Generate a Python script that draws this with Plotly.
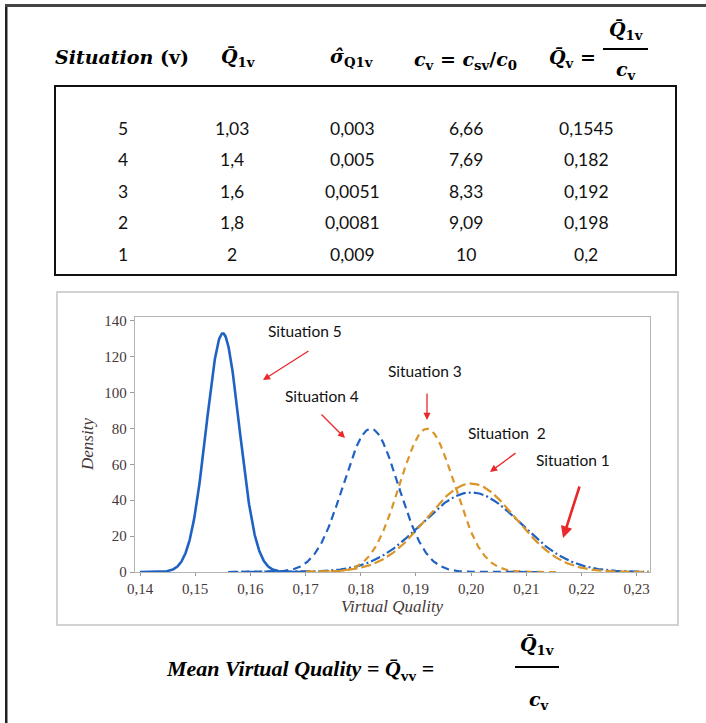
import numpy as np
import plotly.graph_objects as go

# ---------------- data ----------------
situations = [5, 4, 3, 2, 1]
q1v_mean = [1.03, 1.4, 1.6, 1.8, 2]
sd_q1v = [0.003, 0.005, 0.0051, 0.0081, 0.009]
c_v = [6.66, 7.69, 8.33, 9.09, 10]
qv_mean = [0.1545, 0.182, 0.192, 0.198, 0.2]

# curve parameters as drawn in the density chart (peaks)
curve_names = ["Situation 5", "Situation 4", "Situation 3", "Situation 2", "Situation 1"]
curve_mean = [0.155, 0.1818, 0.192, 0.2, 0.2]
curve_sd = [0.003, 0.005, 0.005, 0.0081, 0.009]
curve_from = [0.14, 0.156, 0.168, 0.17, 0.156]
curve_to = [0.17, 0.212, 0.216, 0.2322, 0.2322]

x_ticks = [0.14, 0.15, 0.16, 0.17, 0.18, 0.19, 0.20, 0.21, 0.22, 0.23]
y_ticks = [0, 20, 40, 60, 80, 100, 120, 140]

# ---------------- styles ----------------
BLUE = "#1F62C4"
ORANGE = "#DA9427"
RED = "#E8282A"
curve_color = [BLUE, BLUE, ORANGE, ORANGE, BLUE]
curve_dash = ["solid", "8px,5px", "7px,5px", "10px,4px", "10px,3px,2px,3px"]
curve_width = [2.6, 2.2, 2.2, 2.2, 2.2]

W, H = 706, 723
L, R, T, B = 135, 650, 317, 572
PW, PH = R - L, B - T


def xp(px):
    return (px - L) / PW


def yp(py):
    return (B - py) / PH


def fmt(v):
    return repr(v).replace(".", ",")


fig = go.Figure()

# draw in reverse so Situation 5 ends on top
for i in reversed(range(len(curve_names))):
    xs = np.linspace(curve_from[i], curve_to[i], 400)
    m, s = curve_mean[i], curve_sd[i]
    ys = np.exp(-0.5 * ((xs - m) / s) ** 2) / (s * np.sqrt(2 * np.pi))
    fig.add_trace(go.Scatter(
        x=xs, y=ys, mode="lines", name=curve_names[i],
        line=dict(color=curve_color[i], width=curve_width[i], dash=curve_dash[i]),
        showlegend=False, hoverinfo="skip"))

annotations = []
shapes = []

TICKFONT = dict(family="Liberation Serif", size=15, color="#463838")

fig.update_layout(
    width=W, height=H, autosize=False,
    margin=dict(l=L, r=W - R, t=T, b=H - B, pad=0),
    paper_bgcolor="white", plot_bgcolor="white",
    separators=",.",
    xaxis=dict(range=[0.13909, 0.23241], tickvals=x_ticks, tickformat=".2f",
               showgrid=False, zeroline=False, showline=True, linecolor="#b4b4b4",
               linewidth=1.3, mirror=True, ticks="outside", ticklen=3, tickcolor="#9a9a9a",
               tickfont=TICKFONT),
    yaxis=dict(range=[0, 142.06], tickvals=y_ticks, showgrid=False, zeroline=False,
               showline=True, linecolor="#b4b4b4", linewidth=1.3, mirror=True,
               ticks="outside", ticklen=4, tickcolor="#9a9a9a", tickfont=TICKFONT),
)


def text_at(px, py, text, font, angle=0):
    annotations.append(dict(x=xp(px), y=yp(py), xref="paper", yref="paper", text=text,
                            xanchor="center", yanchor="middle", showarrow=False,
                            textangle=angle, font=font))


# axis titles
AXF = dict(family="Liberation Serif", size=17, color="#463838", style="italic")
text_at(87, 445, "Density", AXF, -90)
text_at(392, 606, "Virtual Quality", AXF)

# situation labels and red arrows
label_pos = {"Situation 5": (305, 331), "Situation 4": (322, 396), "Situation 3": (425, 371),
             "Situation 2": (507, 433), "Situation 1": (573, 460)}
label_text = {"Situation 2": "Situation  2"}
for name, (px, py) in label_pos.items():
    text_at(px, py, label_text.get(name, name), dict(family="Lato", size=15.5, color="#111111"))

arrows = [((310, 350), (263, 380), 1.3), ((320, 413), (345, 438), 1.3),
          ((427, 392), (427, 420), 1.3), ((517, 452), (490, 472), 1.3),
          ((580, 485), (563, 538), 2.6)]
for (tx, ty), (hx, hy), w in arrows:
    annotations.append(dict(x=xp(hx), y=yp(hy), xref="paper", yref="paper", text="",
                            showarrow=True, ax=tx - hx, ay=ty - hy, arrowhead=2,
                            arrowsize=1.1 if w < 2 else 0.9, arrowwidth=w, arrowcolor=RED))

# table cells
col_x = [123, 232, 352, 466, 586]
row_y = [128, 159.5, 191, 222.5, 254]
columns = [situations, q1v_mean, sd_q1v, c_v, qv_mean]
CELLF = dict(family="Lato", size=17.5, color="#111111")
for ci, col in enumerate(columns):
    for ri, v in enumerate(col):
        text_at(col_x[ci], row_y[ri], fmt(v), CELLF)

# header formulas
QB = "Q\u0304"


def head(px, py, text, size=19, family="DejaVu Serif"):
    text_at(px, py, text, dict(family=family, size=size, color="#000000"))


head(122, 57, "<b><i>Situation</i> (v)</b>", 19)
head(238, 57, f"<b><i>{QB}</i><sub>1v</sub></b>")
head(352, 57, "<b><i>\u03c3\u0302</i><sub>Q1v</sub></b>")
head(465, 60, "<b><i>c</i><sub>v</sub> = <i>c</i><sub>sv</sub>/<i>c</i><sub>0</sub></b>")
head(572, 58, f"<b><i>{QB}</i><sub>v</sub> =</b>")
head(626, 30, f"<b><i>{QB}</i><sub>1v</sub></b>")
head(626, 70, "<b><i>c</i><sub>v</sub></b>")
shapes.append(dict(type="line", xref="paper", yref="paper", x0=xp(603), x1=xp(648),
                   y0=yp(49), y1=yp(49), line=dict(color="black", width=2)))

# bottom formula
head(300, 670, f"<b><i>Mean Virtual Quality</i> = <i>{QB}</i><sub>vv</sub> =</b>", 22,
     "Liberation Serif")
head(537, 645, f"<b><i>{QB}</i><sub>1v</sub></b>")
head(539, 700, "<b><i>c</i><sub>v</sub></b>")
shapes.append(dict(type="line", xref="paper", yref="paper", x0=xp(515), x1=xp(559),
                   y0=yp(667), y1=yp(667), line=dict(color="black", width=2)))

# frames
shapes.append(dict(type="rect", xref="paper", yref="paper", x0=xp(5), x1=xp(7.5),
                   y0=yp(4), y1=yp(760), fillcolor="#222222", line=dict(width=0), layer="above"))
shapes.append(dict(type="rect", xref="paper", yref="paper", x0=xp(5), x1=xp(760),
                   y0=yp(4), y1=yp(7), fillcolor="#444444", line=dict(width=0), layer="above"))
shapes.append(dict(type="rect", xref="paper", yref="paper", x0=xp(55), x1=xp(676),
                   y0=yp(86), y1=yp(275), line=dict(color="#111111", width=2)))
shapes.append(dict(type="rect", xref="paper", yref="paper", x0=xp(57), x1=xp(678),
                   y0=yp(292), y1=yp(625), line=dict(color="#d2d2d2", width=2)))

fig.update_layout(annotations=annotations, shapes=shapes)
fig.write_html("out.html", config={"displayModeBar": False},
               post_script="document.body.style.margin='0';")
